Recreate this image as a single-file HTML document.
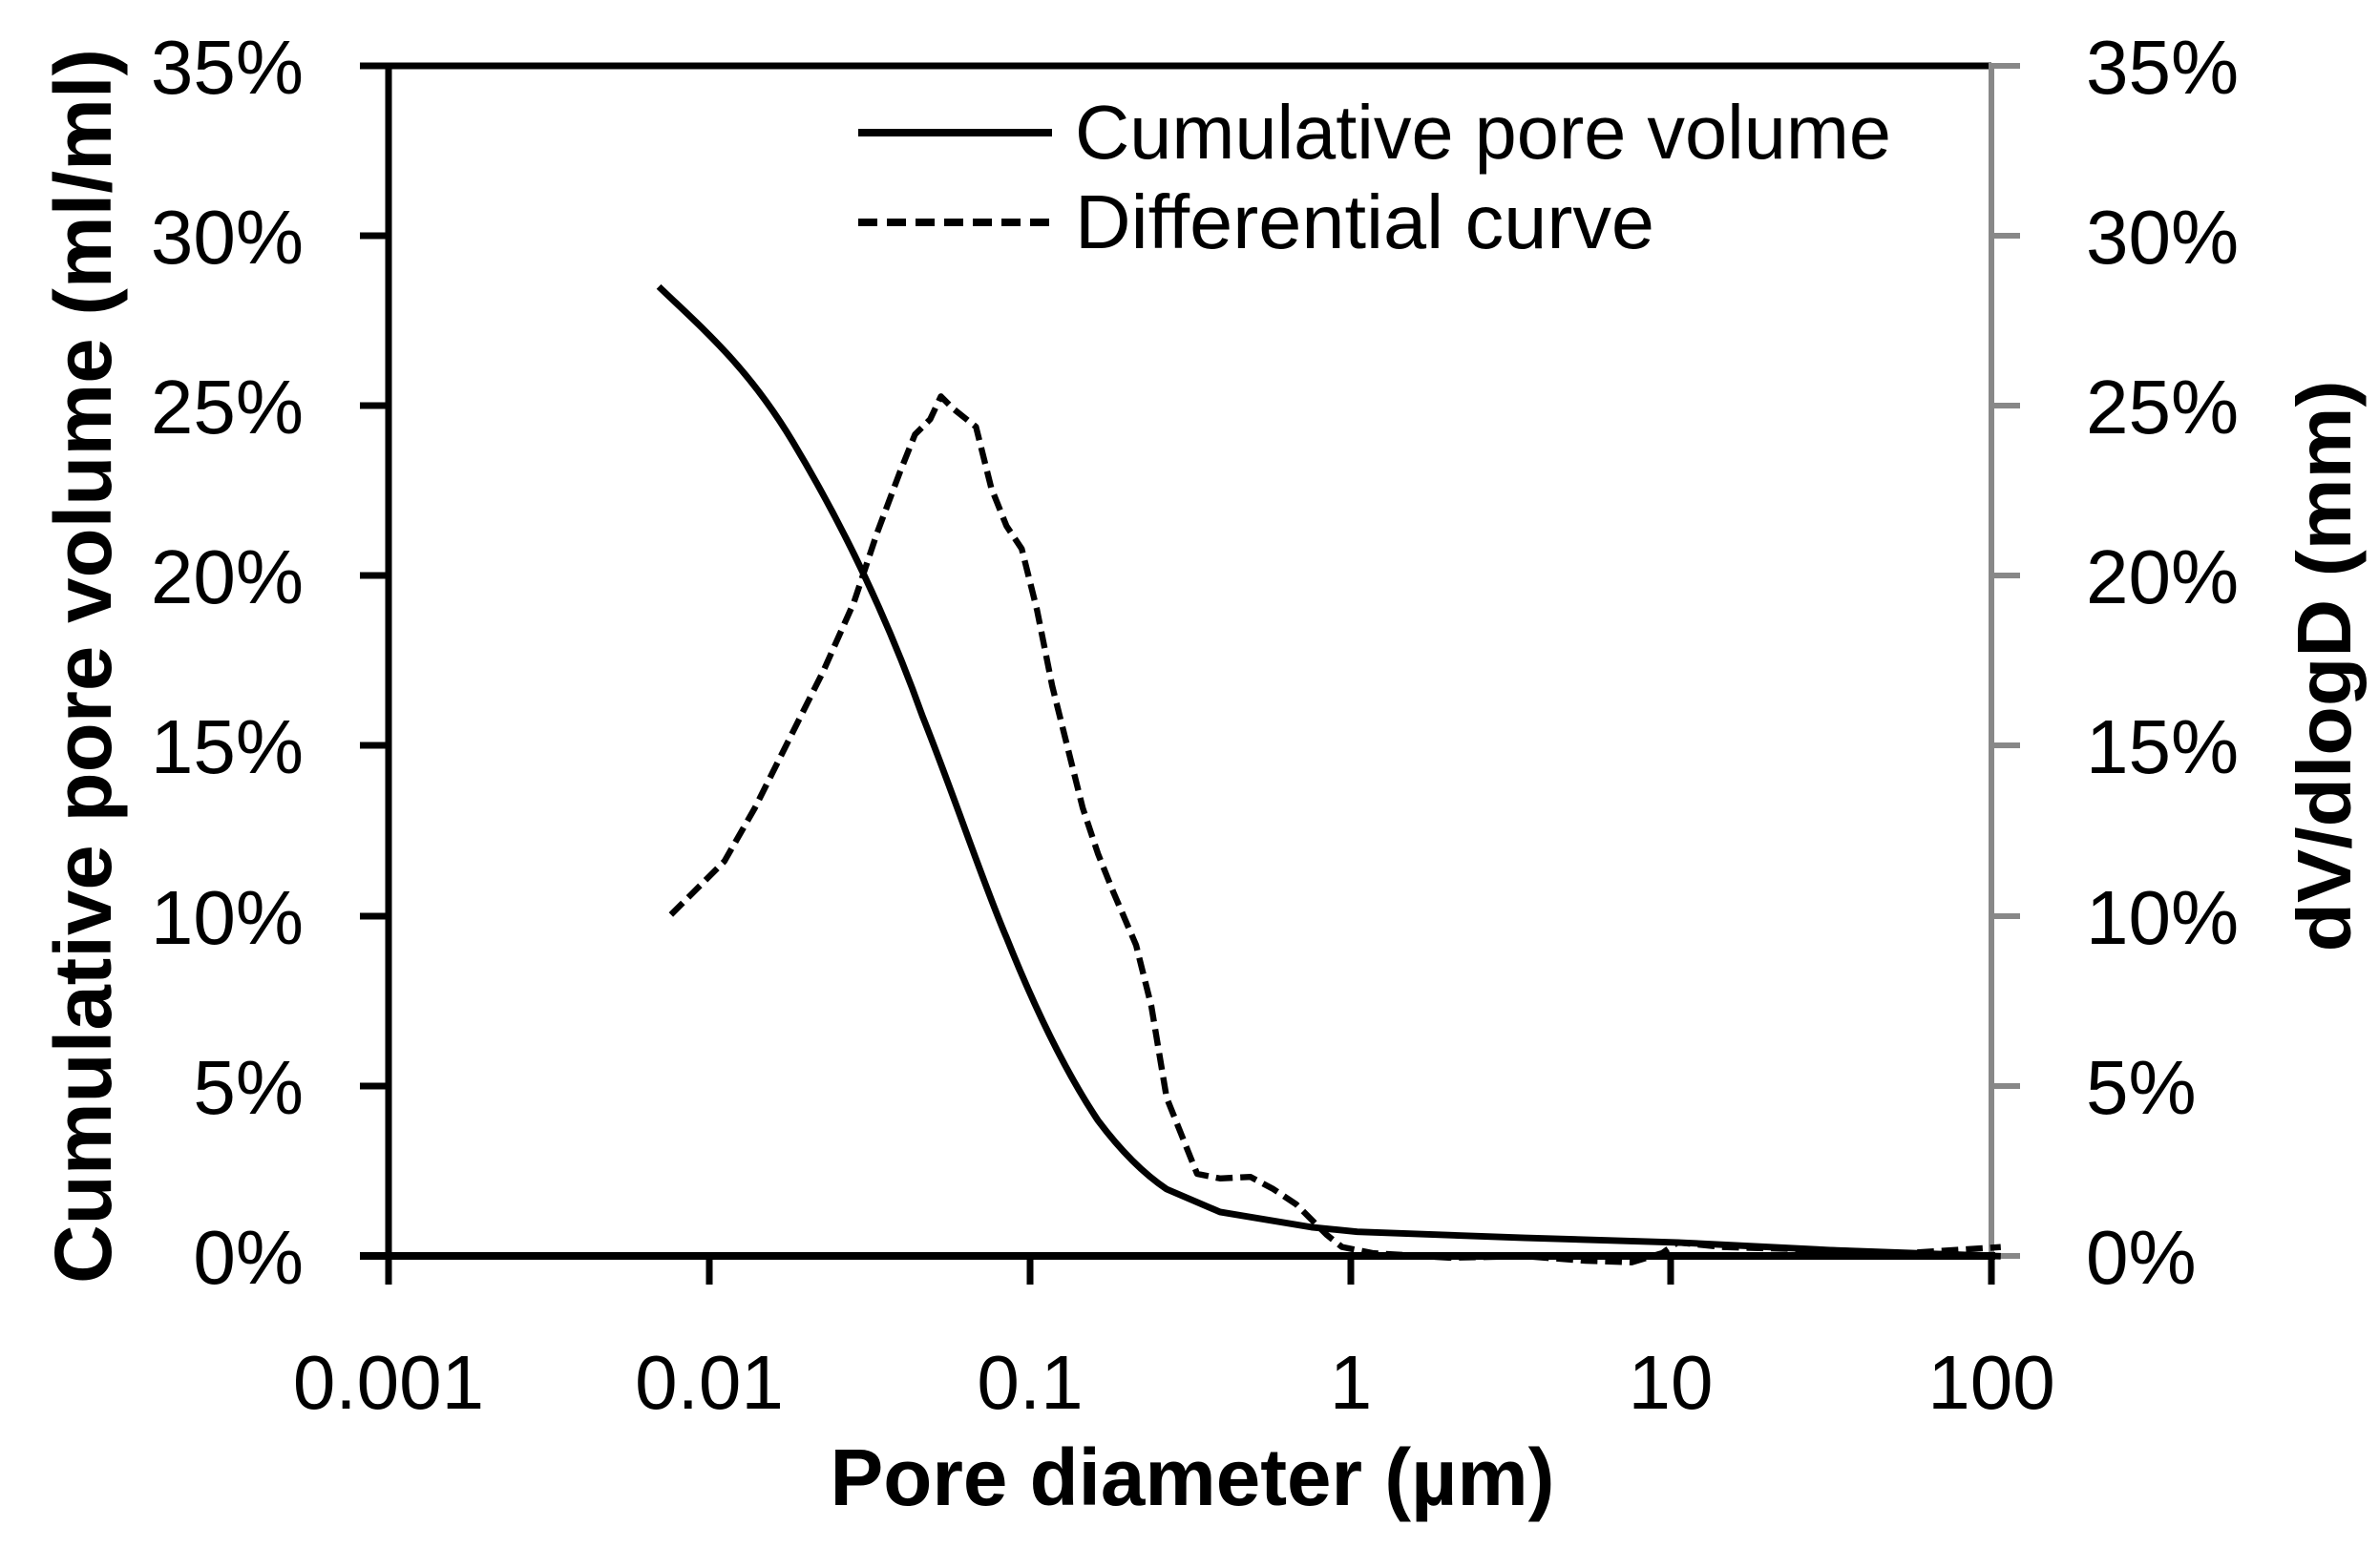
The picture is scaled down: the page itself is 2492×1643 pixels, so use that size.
<!DOCTYPE html>
<html><head><meta charset="utf-8"><style>html,body{margin:0;padding:0;background:#fff}svg{display:block}</style></head>
<body>
<svg width="2492" height="1643" viewBox="0 0 2492 1643" xmlns="http://www.w3.org/2000/svg" font-family="Liberation Sans, sans-serif">
<rect width="2492" height="1643" fill="#fff"/>
<line x1="377" y1="69" x2="2086" y2="69" stroke="#000" stroke-width="7"/>
<line x1="2086" y1="69" x2="2116" y2="69" stroke="#888" stroke-width="6"/>
<line x1="2086" y1="66" x2="2086" y2="1320" stroke="#888" stroke-width="6"/>
<line x1="407" y1="66" x2="407" y2="1346" stroke="#000" stroke-width="7"/>
<line x1="377" y1="1316" x2="2090" y2="1316" stroke="#000" stroke-width="8"/>
<g stroke="#000" stroke-width="7">
<line x1="377" y1="247" x2="407" y2="247"/><line x1="377" y1="425" x2="407" y2="425"/>
<line x1="377" y1="603" x2="407" y2="603"/><line x1="377" y1="781" x2="407" y2="781"/>
<line x1="377" y1="960" x2="407" y2="960"/><line x1="377" y1="1138" x2="407" y2="1138"/>
<line x1="743" y1="1316" x2="743" y2="1346"/><line x1="1079" y1="1316" x2="1079" y2="1346"/>
<line x1="1415" y1="1316" x2="1415" y2="1346"/><line x1="1750" y1="1316" x2="1750" y2="1346"/>
<line x1="2086" y1="1316" x2="2086" y2="1346"/>
</g>
<g stroke="#888" stroke-width="6">
<line x1="2086" y1="247" x2="2116" y2="247"/><line x1="2086" y1="425" x2="2116" y2="425"/>
<line x1="2086" y1="603" x2="2116" y2="603"/><line x1="2086" y1="781" x2="2116" y2="781"/>
<line x1="2086" y1="960" x2="2116" y2="960"/><line x1="2086" y1="1138" x2="2116" y2="1138"/>
<line x1="2086" y1="1316" x2="2116" y2="1316"/>
</g>
<g font-size="80" text-anchor="end" fill="#000">
<text x="318" y="98">35%</text><text x="318" y="276">30%</text><text x="318" y="454">25%</text>
<text x="318" y="632">20%</text><text x="318" y="810">15%</text><text x="318" y="989">10%</text>
<text x="318" y="1167">5%</text><text x="318" y="1345">0%</text>
</g>
<g font-size="80" text-anchor="start" fill="#000">
<text x="2185" y="98">35%</text><text x="2185" y="276">30%</text><text x="2185" y="454">25%</text>
<text x="2185" y="632">20%</text><text x="2185" y="810">15%</text><text x="2185" y="989">10%</text>
<text x="2185" y="1167">5%</text><text x="2185" y="1345">0%</text>
</g>
<g font-size="80" text-anchor="middle" fill="#000">
<text x="407" y="1476">0.001</text><text x="743" y="1476">0.01</text><text x="1079" y="1476">0.1</text>
<text x="1415" y="1476">1</text><text x="1750" y="1476">10</text><text x="2086" y="1476">100</text>
</g>
<text x="1249" y="1577" font-size="84" font-weight="bold" text-anchor="middle" textLength="759" lengthAdjust="spacingAndGlyphs">Pore diameter (µm)</text>
<text transform="translate(116,698) rotate(-90)" font-size="84" font-weight="bold" text-anchor="middle" textLength="1294" lengthAdjust="spacingAndGlyphs">Cumulative  pore volume  (ml/ml)</text>
<text transform="translate(2462,698) rotate(-90)" font-size="80" font-weight="bold" text-anchor="middle" textLength="599" lengthAdjust="spacingAndGlyphs">dV/dlogD (mm)</text>
<line x1="899" y1="139" x2="1102" y2="139" stroke="#000" stroke-width="8"/>
<line x1="899" y1="233" x2="1102" y2="233" stroke="#000" stroke-width="8" stroke-dasharray="20,10"/>
<text x="1126" y="166" font-size="80" textLength="855" lengthAdjust="spacingAndGlyphs">Cumulative pore volume</text>
<text x="1126" y="260" font-size="80" textLength="607" lengthAdjust="spacingAndGlyphs">Differential curve</text>
<g transform="scale(1.5974)" fill="none" stroke="#000" stroke-linejoin="round">
<path stroke-width="4.3" d="M432,188 C460,215 490,240 520,290 C550,340 580,400 605,470 C625,520 645,580 660,615 C680,665 700,705 720,735 C735,755 750,770 765,780 L800,795 L860,805 L890,808 L1000,812 L1100,815 L1200,820 L1312,824"/>
<path stroke-width="4" stroke-dasharray="11,5" d="M440,600 L455,585 L475,565 L495,530 L520,480 L540,440 L560,395 L575,350 L590,310 L600,285 L610,275 L617,260 L625,268 L640,280 L650,320 L660,345 L670,360 L680,400 L690,450 L700,490 L710,530 L720,560 L730,585 L745,620 L755,660 L765,720 L775,745 L785,770 L800,773 L820,772 L835,780 L850,790 L870,810 L880,818 L900,822 L950,825 L1000,824 L1040,827 L1070,828 L1090,822 L1100,815 L1130,818 L1200,820 L1250,822 L1312,818"/>
</g>
</svg>
</body></html>
